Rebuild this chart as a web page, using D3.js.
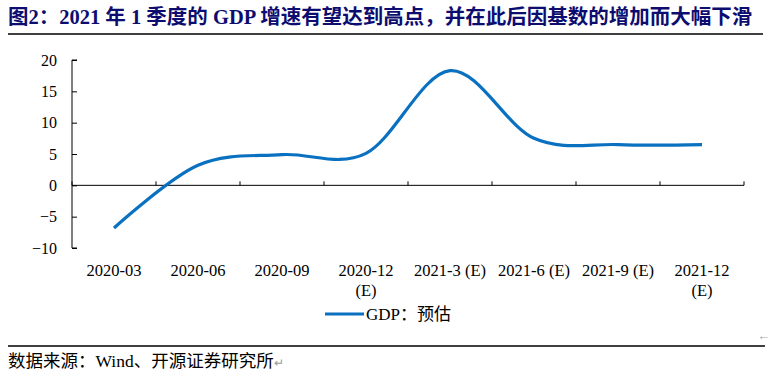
<!DOCTYPE html>
<html>
<head>
<meta charset="utf-8">
<script src="https://cdn.jsdelivr.net/npm/d3@7"></script>
<style>
  body { margin: 0; background: #fff; }
  svg text { font-family: "Liberation Serif", "Noto Sans CJK SC", serif; }
</style>
</head>
<body>
<svg width="772" height="382"></svg>
<script>
// chart data
let quarters = ["2020-03", "2020-06", "2020-09", "2020-12\n(E)", "2021-3 (E)", "2021-6 (E)", "2021-9 (E)", "2021-12\n(E)"];
let gdp = [-6.8, 3.2, 4.9, 5.1, 18.3, 7.5, 6.5, 6.5];
let yTicks = [-10, -5, 0, 5, 10, 15, 20];

let svg = d3.select("svg"),
    width = +svg.attr("width"),
    height = +svg.attr("height");

// title + rules
svg.append("text")
    .attr("x", 8).attr("y", 24)
    .attr("fill", "#0d0d70")
    .style("font-size", "20.5px").style("font-weight", "bold")
    .text("图2：2021 年 1 季度的 GDP 增速有望达到高点，并在此后因基数的增加而大幅下滑");

svg.append("line").attr("x1", 8).attr("x2", 763).attr("y1", 34).attr("y2", 34)
    .attr("stroke", "#000").attr("stroke-width", 1.5);
svg.append("line").attr("x1", 8).attr("x2", 765).attr("y1", 346).attr("y2", 346)
    .attr("stroke", "#000").attr("stroke-width", 1.5);

let src = svg.append("text").attr("x", 8).attr("y", 367)
    .style("font-size", "17.5px");
src.append("tspan").text("数据来源：Wind、开源证券研究所");
src.append("tspan").attr("fill", "#999").style("font-size", "12px").text("↵");
svg.append("text").attr("x", 757).attr("y", 340)
    .attr("fill", "#aaa").style("font-size", "13px").text("←");

let x = d3.scaleBand().domain(quarters).range([72, 744]);
let y = d3.scaleLinear().domain([-10, 20]).range([248, 60]);

// y axis
let yAxis = svg.append("g").attr("transform", "translate(72,0)")
    .call(d3.axisRight(y).tickValues(yTicks).tickSize(5).tickFormat(d3.format("d")));
yAxis.select(".domain").attr("d", "M5,60H0V248H5");
yAxis.selectAll(".tick text").attr("x", -15).attr("text-anchor", "end")
    .style("font-size", "16px").attr("fill", "#000");

// zero line with category ticks
let xAxis = svg.append("g").attr("transform", "translate(0," + y(0) + ")")
    .call(d3.axisTop(x).tickSize(4).tickFormat(""));
xAxis.select(".domain").attr("d", "M72,0H744");
xAxis.selectAll(".tick").remove();
let edges = quarters.map(q => x(q)).concat([744]);
xAxis.selectAll(".edge").data(edges).enter().append("line")
    .attr("x1", d => d).attr("x2", d => d).attr("y1", 0).attr("y2", -4)
    .attr("stroke", "#000");

// category labels
let lab = svg.append("g").selectAll("text").data(quarters).enter().append("text")
    .attr("x", d => x(d) + x.bandwidth() / 2)
    .attr("y", 276)
    .attr("text-anchor", "middle")
    .style("font-size", "16.5px");
lab.selectAll("tspan").data(d => d.split("\n")).enter().append("tspan")
    .attr("x", function() { return this.parentNode.getAttribute("x"); })
    .attr("dy", (d, i) => i ? 20 : 0)
    .text(d => d);

// series line
let line = d3.line()
    .x((d, i) => x(quarters[i]) + x.bandwidth() / 2)
    .y(d => y(d))
    .curve(d3.curveCardinal.tension(0));

svg.append("path").datum(gdp)
    .attr("d", line)
    .attr("fill", "none")
    .attr("stroke", "#0a70c0")
    .attr("stroke-width", 3.2);

// legend
svg.append("line").attr("x1", 325).attr("x2", 364).attr("y1", 314).attr("y2", 314)
    .attr("stroke", "#0a70c0").attr("stroke-width", 3.2);
svg.append("text").attr("x", 366).attr("y", 320)
    .style("font-size", "17px").text("GDP：预估");
</script>
</body>
</html>
